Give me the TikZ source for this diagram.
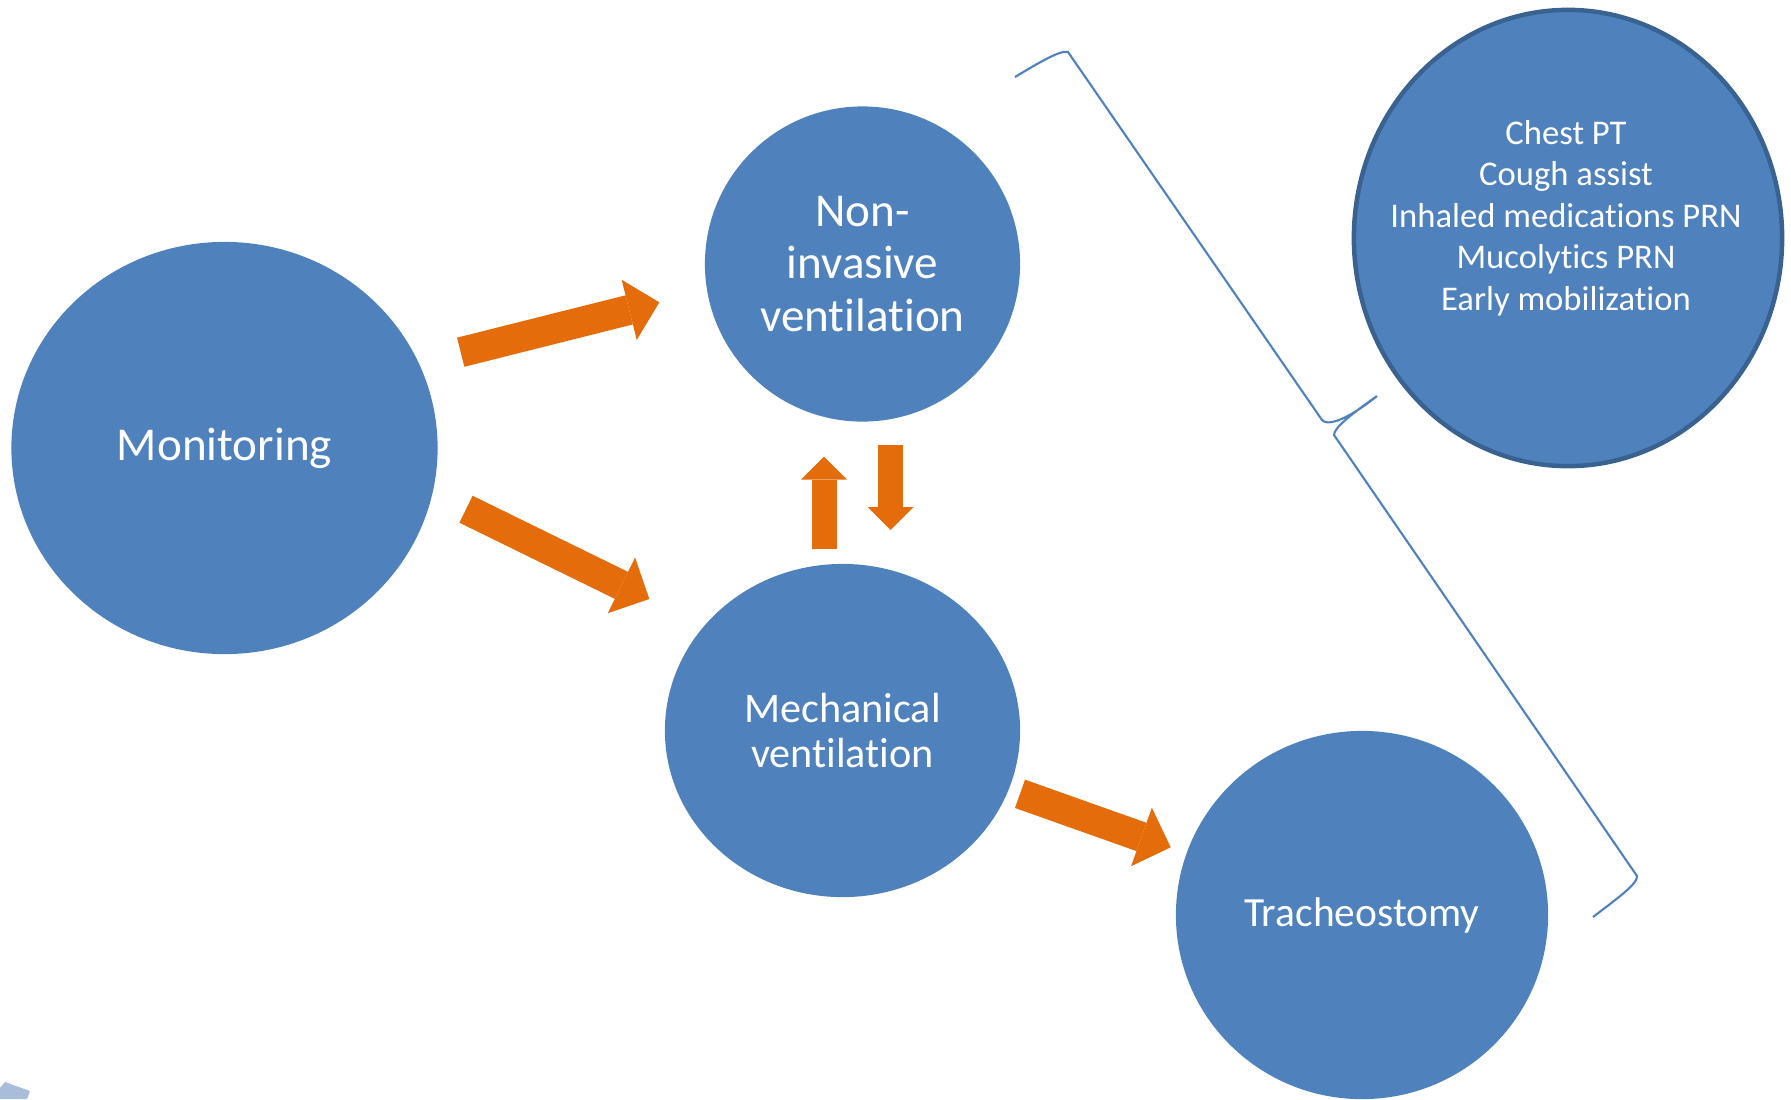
\documentclass[tikz,border=0pt]{standalone}
\usepackage{fontspec}
\setmainfont{Carlito}[Ligatures=NoCommon]
\usepackage{tikz}
\usetikzlibrary{arrows.meta,shapes.geometric}
\definecolor{nodeblue}{HTML}{4F81BD}
\definecolor{rimblue}{HTML}{3A6291}
\definecolor{flowgold}{HTML}{E46C0A}
\definecolor{ghostblue}{HTML}{A9BCD9}

\begin{document}
\begin{tikzpicture}[x=0.01cm,y=-0.01cm,
  bubble/.style={ellipse,fill=nodeblue,text=white,align=center,inner sep=0pt},
  bigflow/.style={draw=flowgold,line width=0.30cm,-{Triangle[length=0.31cm,width=0.62cm,line width=0pt]}},
  smallflow/.style={draw=flowgold,line width=0.25cm,-{Triangle[length=0.23cm,width=0.46cm,line width=0pt]}}]
  \useasboundingbox (0,0) rectangle (1791,1099);
  % circles
  \node[bubble,minimum width=4.26cm,minimum height=4.12cm,font=\fontsize{13.4}{15}\selectfont] (mon) at (224.5,448) {Monitoring};
  \node[bubble,minimum width=3.15cm,minimum height=3.15cm,font=\fontsize{13.4}{15}\selectfont] (niv) at (862.5,264) {Non-\\invasive\\ventilation};
  \node[bubble,minimum width=3.55cm,minimum height=3.33cm,font=\fontsize{12}{13}\selectfont] (mech) at (842.5,730.5) {Mechanical\\ventilation};
  \node[bubble,minimum width=3.72cm,minimum height=3.68cm,font=\fontsize{11.8}{13}\selectfont] (trach) at (1362,915) {Tracheostomy};
  \node[bubble,draw=rimblue,line width=0.045cm,minimum width=4.28cm,minimum height=4.56cm] (care) at (1568,238) {};
  \node[text=white,align=center,font=\fontsize{9.85}{11.8}\selectfont] (caretxt) at (1566,218)
    {Chest PT\\Cough assist\\Inhaled medications PRN\\Mucolytics PRN\\Early mobilization};
  % arrows
  \coordinate (monT1) at (460.7,352.2);  \coordinate (nivH) at (659.3,302.3);
  \coordinate (monT2) at (466,509.2);    \coordinate (mechH) at (649.3,599);
  \coordinate (mechT) at (1020,793.8);   \coordinate (trachH) at (1170.7,847.3);
  \coordinate (upT) at (824,549);        \coordinate (upH) at (824,456.7);
  \coordinate (dnT) at (890.7,445);      \coordinate (dnH) at (890.7,530);
  \draw[bigflow] (monT1) -- (nivH);
  \draw[bigflow] (monT2) -- (mechH);
  \draw[bigflow] (mechT) -- (trachH);
  \draw[smallflow] (upT) -- (upH);
  \draw[smallflow] (dnT) -- (dnH);
  % brace
  \draw[nodeblue,line width=0.6pt]
    (1015,77) .. controls (1040,62) and (1060,50) .. (1068,52) -- (1322,420)
    .. controls (1326,425) and (1342,424) .. (1377,396)
    .. controls (1350,415) and (1334,428) .. (1334,435) -- (1637,876)
    .. controls (1638,884) and (1615,900) .. (1593,917);
  \fill[ghostblue] (0,1088) -- (5,1082) -- (30,1091) -- (27,1099) -- (0,1099) -- cycle;
\end{tikzpicture}
\end{document}
